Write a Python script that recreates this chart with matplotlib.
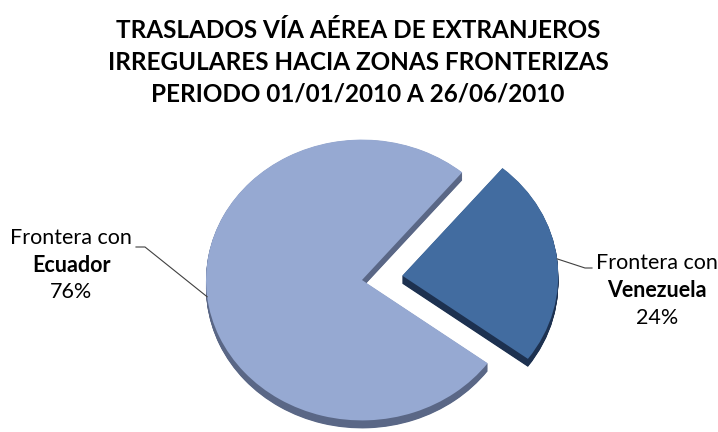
import numpy as np
import matplotlib
matplotlib.use("Agg")
import matplotlib.pyplot as plt

plt.rcParams['font.family'] = ['Lato', 'DejaVu Sans']

# ---- data ----
categories = ["Venezuela", "Ecuador"]
label_prefix = "Frontera con"
values = [24, 76]
pct_labels = ["24%", "76%"]
title_lines = ["TRASLADOS VÍA AÉREA DE EXTRANJEROS",
               "IRREGULARES HACIA ZONAS FRONTERIZAS",
               "PERIODO 01/01/2010 A 26/06/2010"]

face_colors = ["#426ca0", "#96a9d2"]
side_colors = ["#1d3150", "#5a6786"]
explode_frac = [0.26, 0.0]

W, H = 718, 432
ratio = 0.9                        # vertical squash for tilted pie
fig = plt.figure(figsize=(W / 100, H / 100), dpi=100)
ax = fig.add_axes([0, 0, 1, 1])

def py(y_img):
    return (H - y_img) / ratio

cx, cy = 362, py(280)
R = 156
start = -36.35
depth = 8 / ratio
explode = [e * R for e in explode_frac]

# side (extrusion) layers
for k in np.linspace(depth, 0.5, 14):
    ax.pie(values, explode=explode, startangle=start, colors=side_colors,
           radius=R, center=(cx, cy - k), wedgeprops=dict(linewidth=0))
wedges, _ = ax.pie(values, explode=explode, startangle=start, colors=face_colors,
                   radius=R, center=(cx, cy), wedgeprops=dict(linewidth=0))

ax.set_aspect('auto')
ax.set_xlim(0, W)
ax.set_ylim(0, H / ratio)
ax.axis('off')

# title
for i, line in enumerate(title_lines):
    fig.text(358 / W, 1 - (31 + i * 31.5) / H, line, ha='center', va='center',
             fontsize=17.5, fontweight='bold', color='black')

def edge_point(w):
    mid = np.deg2rad((w.theta1 + w.theta2) / 2)
    x0, y0 = w.center
    return x0 + w.r * np.cos(mid), y0 + w.r * np.sin(mid)

# Venezuela label
vx, vy = edge_point(wedges[0])
ax.plot([vx, 585, 592], [vy, py(268), py(268)], color='#404040', lw=0.8)
lx = 657
for j, (txt, wt) in enumerate([(label_prefix, 'normal'), (categories[0], 'bold'), (pct_labels[0], 'normal')]):
    ax.text(lx, py(263 + j * 27.5), txt, ha='center', va='center', fontsize=15.5,
            fontweight=wt, color='black')

# Ecuador label
ex, ey = edge_point(wedges[1])
ax.plot([ex, 145, 136], [ey, py(247), py(247)], color='#404040', lw=0.8)
lx = 71
for j, (txt, wt) in enumerate([(label_prefix, 'normal'), (categories[1], 'bold'), (pct_labels[1], 'normal')]):
    ax.text(lx, py(238 + j * 27), txt, ha='center', va='center', fontsize=15.5,
            fontweight=wt, color='black')

fig.savefig("out.png", dpi=100)
